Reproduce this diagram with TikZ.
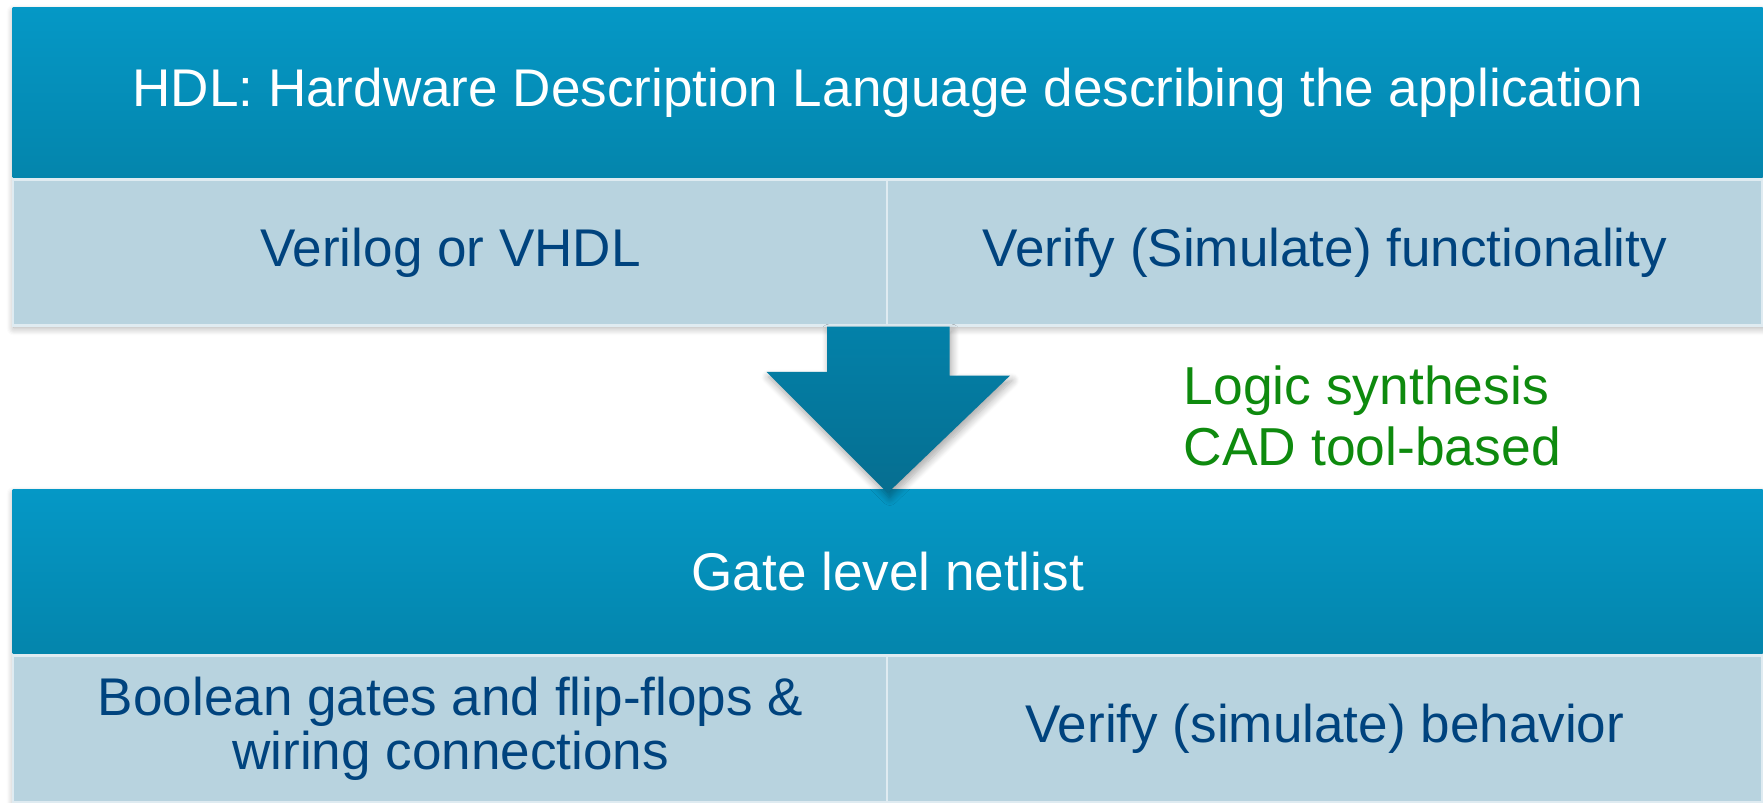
\documentclass[tikz,border=0pt]{standalone}
\usepackage{fontspec}
\setmainfont{Liberation Sans}
\usetikzlibrary{shadows.blur}

\definecolor{headtop}{RGB}{5,152,198}
\definecolor{headbot}{RGB}{4,133,172}
\definecolor{cellfill}{RGB}{184,211,223}
\definecolor{celltext}{RGB}{0,67,126}
\definecolor{arrowtop}{RGB}{3,129,169}
\definecolor{arrowbot}{RGB}{6,110,144}
\definecolor{synthgreen}{RGB}{14,138,14}

\tikzset{
  head/.style={top color=headtop, bottom color=headbot, text=white, inner sep=0pt,
    minimum width=17.5cm, font=\fontsize{15.1}{15.4}\selectfont},
  cell/.style={fill=cellfill, draw=white!55!cellfill, line width=0.6pt, text=celltext,
    inner sep=0pt, minimum width=8.75cm, align=center, font=\fontsize{15.1}{15.4}\selectfont},
  boxshadow/.style={blur shadow={shadow xshift=0.02cm, shadow yshift=-0.05cm,
    shadow blur steps=8, shadow opacity=35}}
}

\begin{document}
\begin{tikzpicture}
\useasboundingbox (0,0) rectangle (17.63,8.02);

\path[boxshadow, fill=white] (0.12,7.95) rectangle (17.62,4.79);
\node[head, minimum height=1.70cm, anchor=north west] (hdl) at (0.12,7.95)
  {HDL: Hardware Description Language describing the application};
\node[cell, minimum height=1.46cm, anchor=north west] (verilog) at (hdl.south west) {Verilog or VHDL};
\node[cell, minimum height=1.46cm, anchor=north east] (verifyfn) at (hdl.south east) {Verify (Simulate) functionality};

\path[boxshadow, fill=white] (0.12,3.13) rectangle (17.62,0.02);
\node[head, minimum height=1.64cm, anchor=north west] (netlist) at (0.12,3.13) {Gate level netlist};
\node[cell, minimum height=1.47cm, anchor=north west] (gates) at (netlist.south west)
  {Boolean gates and flip-flops \&\\wiring connections};
\node[cell, minimum height=1.47cm, anchor=north east] (verifybeh) at (netlist.south east) {Verify (simulate) behavior};
\fill[headbot] (gates.south west) rectangle ([yshift=-0.03cm]verifybeh.south east);

\coordinate (tip) at ([yshift=-0.04cm]netlist.north);
\shade[top color=arrowtop, bottom color=arrowbot, boxshadow]
  (tip) -- ++(-1.21,1.21) -- ++(0.605,0) |- (verilog.south east) -- ++(0.605,0)
  -- ++(0,-0.49) -- ++(0.605,0) -- cycle;

\node[anchor=west, align=left, text=synthgreen, inner sep=0pt,
  font=\fontsize{15.2}{17.4}\selectfont] (synth) at (11.83,3.86)
  {Logic synthesis\\CAD tool-based};
\end{tikzpicture}
\end{document}
